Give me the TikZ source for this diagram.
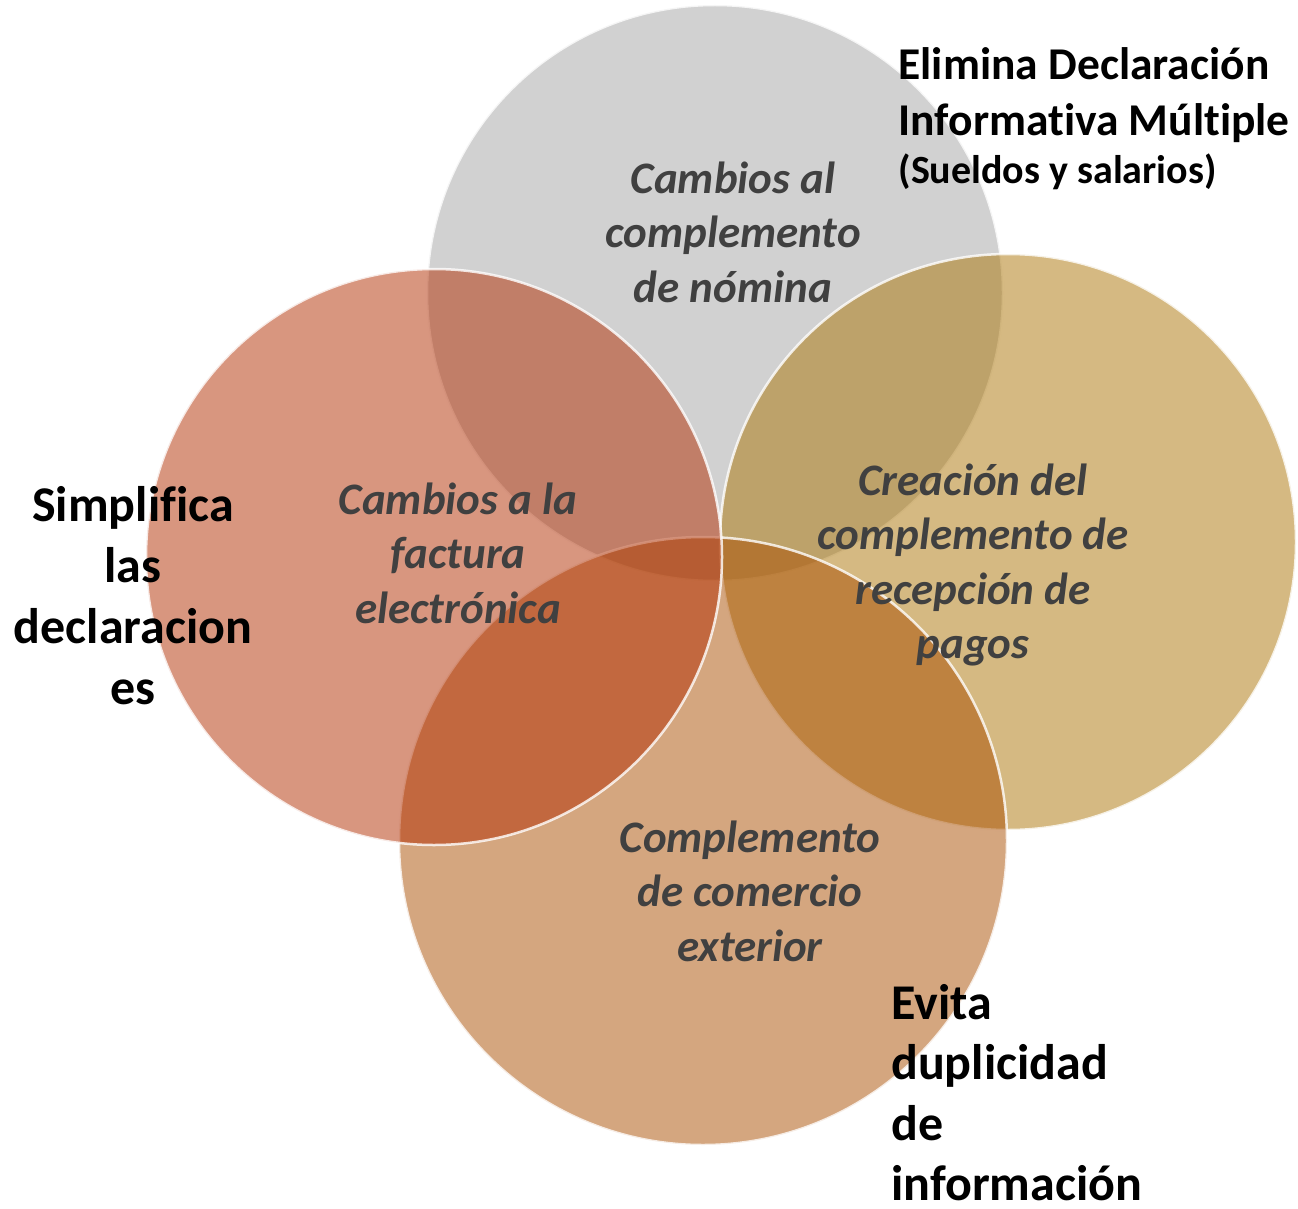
\documentclass[tikz,border=0pt]{standalone}
\usepackage{fontspec}
\setmainfont{Carlito}[Ligatures=NoCommon]
\definecolor{circgray}{RGB}{163,163,163}
\definecolor{circred}{RGB}{177,45,0}
\definecolor{circgold}{RGB}{171,115,5}
\definecolor{circbrown}{RGB}{169,77,0}
\definecolor{labelgray}{RGB}{64,64,64}

\begin{document}
\begin{tikzpicture}[x=1pt,y=-1pt,
  venn/.style={circle, draw=white, draw opacity=0.8, line width=2.5pt,
    fill opacity=0.5, inner sep=0pt},
  inner/.style={align=center, text=labelgray,
    font=\fontsize{45}{54.5}\selectfont\bfseries\itshape},
  outer/.style={align=center, text=black,
    font=\fontsize{50}{61}\selectfont\bfseries}]
\useasboundingbox (0,0) rectangle (1298,1209);

% circles
\node [venn, fill=circgray,  minimum size=576pt] (nomina)   at (715,293) {};
\node [venn, fill=circgold,  minimum size=576pt] (pagos)    at (1008,542) {};
\node [venn, fill=circbrown, minimum size=608pt] (comercio) at (703,841) {};
\node [venn, fill=circred,   minimum size=576pt] (factura)  at (434,557) {};

% labels inside
\node [inner] (tnomina)   at (733,232) {Cambios al\\complemento\\de nómina};
\node [inner] (tfactura)  at (458,553) {Cambios a la\\factura\\electrónica};
\node [inner] (tpagos)    at (973,565) {Creación del\\complemento de\\recepción de\\pagos};
\node [inner] (tcomercio) at (750,891) {Complemento\\de comercio\\exterior};

% labels outside
\node [outer, anchor=north west, align=left, font=\fontsize{45.5}{56}\selectfont\bfseries]
  (elimina) at (895,44) {Elimina Declaración\\Informativa Múltiple\\[-8pt]
  {\fontsize{40}{40}\selectfont(Sueldos y salarios)}};
\node [outer] (simplifica) at (133,596) {Simplifica\\las\\declaracion\\es};
\node [outer, anchor=north west, align=left, inner sep=0pt, text depth=0pt,
  font=\fontsize{50}{60.5}\selectfont\bfseries] (evita) at (891,984)
  {Evita\\duplicidad\\de\\información};
\end{tikzpicture}
\end{document}
